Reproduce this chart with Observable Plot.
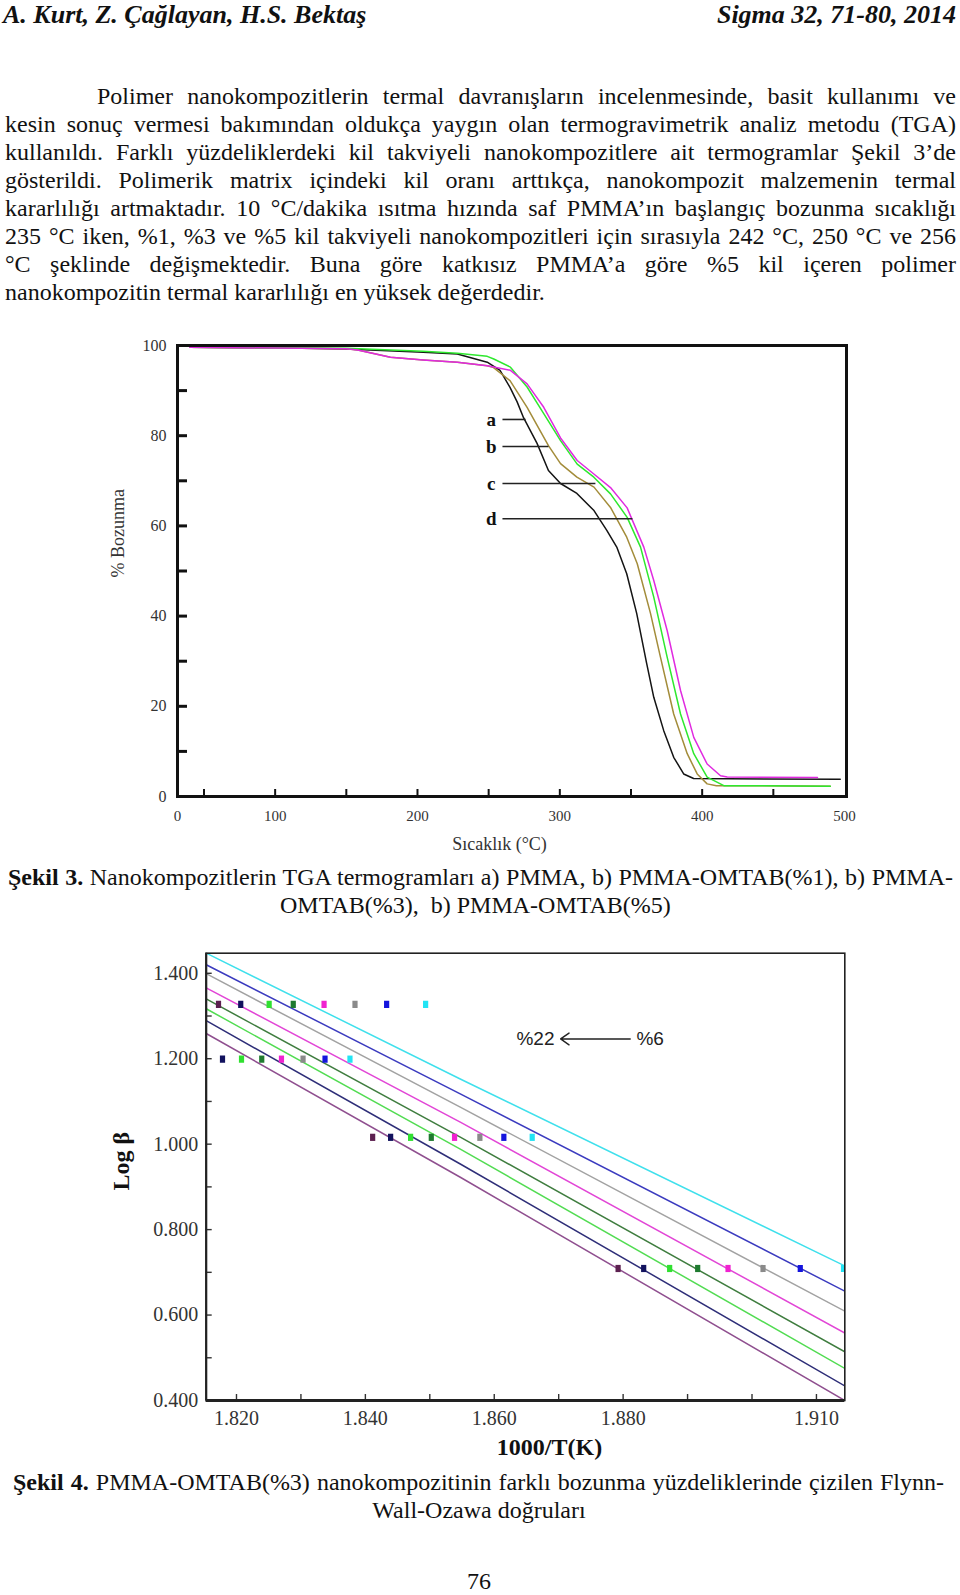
<!DOCTYPE html>
<html><head><meta charset="utf-8">
<script src="https://cdn.jsdelivr.net/npm/d3@7"></script>
<script src="https://cdn.jsdelivr.net/npm/@observablehq/plot@0.6"></script>
<style>
html,body{margin:0;padding:0;background:#fff;}
#page{position:relative;width:960px;height:1595px;overflow:hidden;font-family:"Liberation Serif","Times New Roman",serif;color:#111;}
.t{position:absolute;white-space:nowrap;font-size:24px;line-height:28px;}
.j{position:absolute;white-space:nowrap;font-size:24px;line-height:28px;text-align:justify;text-align-last:justify;}
.hdr{position:absolute;white-space:nowrap;font-size:26px;line-height:29px;font-weight:bold;font-style:italic;}
.chart{position:absolute;left:0;}
</style></head>
<body>
<div id="page">
  <div class="hdr" style="left:3px;top:0px;">A. Kurt, Z. Çağlayan, H.S. Bektaş</div>
  <div class="hdr" style="right:4px;top:0px;">Sigma 32, 71-80, 2014</div>
  <div id="body"></div>
  <div id="c1" class="chart" style="top:325px;"></div>
  <div class="j" style="left:8px;width:945px;top:863px;"><b>Şekil 3.</b> Nanokompozitlerin TGA termogramları a) PMMA, b) PMMA-OMTAB(%1), b) PMMA-</div>
  <div class="t" style="left:280px;top:891px;">OMTAB(%3),&nbsp; b) PMMA-OMTAB(%5)</div>
  <div id="c2" class="chart" style="top:935px;"></div>
  <div class="j" style="left:13px;width:931px;top:1468px;"><b>Şekil 4.</b> PMMA-OMTAB(%3) nanokompozitinin farklı bozunma yüzdeliklerinde çizilen Flynn-</div>
  <div class="t" style="left:0;width:958px;text-align:center;top:1496px;">Wall-Ozawa doğruları</div>
  <div class="t" style="left:0;width:958px;text-align:center;top:1567px;">76</div>
</div>
<script>
// ---------- Body text lines ----------
const bodyLines = [
  "Polimer nanokompozitlerin termal davranışların incelenmesinde, basit kullanımı ve",
  "kesin sonuç vermesi bakımından oldukça yaygın olan termogravimetrik analiz metodu (TGA)",
  "kullanıldı. Farklı yüzdeliklerdeki kil takviyeli nanokompozitlere ait termogramlar Şekil 3’de",
  "gösterildi. Polimerik matrix içindeki kil oranı arttıkça, nanokompozit malzemenin termal",
  "kararlılığı artmaktadır. 10 °C/dakika ısıtma hızında saf PMMA’ın başlangıç bozunma sıcaklığı",
  "235 °C iken, %1, %3 ve %5 kil takviyeli nanokompozitleri için sırasıyla 242 °C, 250 °C ve 256",
  "°C şeklinde değişmektedir. Buna göre katkısız PMMA’a göre %5 kil içeren polimer",
  "nanokompozitin termal kararlılığı en yüksek değerdedir."
];

// ---------- Figure 3 (TGA) data: [temperature °C, % Bozunma] ----------
const tgaSeries = ["a", "b", "c", "d"];
const tgaColors = ["#141414", "#a38c3a", "#2ee82e", "#e02ae0"];
const curveA = [[40,99.6],[100,99.5],[150,99.2],[204,98.5],[228,98.1],[249,96.3],[258,94.5],[265,90.7],[270,87.5],[274.5,84],[284,78.3],[292,72.3],[300.5,69.4],[312,67.2],[324,63.4],[333,59],[340,55.3],[347,49.4],[354,40.6],[361,29.5],[366,22],[373,14.6],[380,8.7],[387,5],[394,4],[497,3.8]];
const curveB = [[40,99.6],[150,99.3],[158,99.0],[181,97.4],[204,96.8],[228,96.3],[249,95.5],[253,95.2],[265,92.2],[277,86.3],[292,77.8],[300.5,73.8],[312,70.8],[324,68.6],[335.6,64.1],[347,57.5],[354.4,51.6],[363.7,40.6],[370.7,30.9],[380,18.3],[389.5,9.5],[396.5,5],[403.5,2.8],[410,2.4],[490,2.3]];
const curveC = [[40,99.6],[150,99.4],[204,98.7],[228,98.3],[249,97.6],[253.6,97],[265.3,95.2],[277,90.8],[288.7,84.9],[300.5,78.9],[312.2,73.7],[323.9,70.8],[335.6,67.1],[347.3,61.9],[356.7,55.3],[366,44.2],[375.4,30.9],[384.8,18.3],[394.1,9.5],[403.5,4.3],[415.2,2.4],[490,2.3]];
const curveD = [[40,99.6],[150,99.3],[158,99.0],[181,97.4],[204,96.8],[228,96.3],[249,95.5],[265.3,94.5],[277,91.5],[288.7,86.3],[300.5,79.5],[312.2,74.5],[323.9,71.5],[335.6,68.5],[347.3,64.0],[359,55.3],[366,47.9],[375.4,36.8],[384.8,23.5],[394.1,13.1],[403.5,7.2],[412.9,4.6],[417.6,4.3],[481,4.2]];
const tgaXDomain = [31.4, 501.4];
const tgaYDomain = [0, 100];
const tgaXTickValues = [31.4, 100, 200, 300, 400, 500];
const tgaXTickLabels = ["0", "100", "200", "300", "400", "500"];
const tgaXMinorTicks = [50, 100, 150, 200, 250, 300, 350, 400, 450];
const tgaYTickValues = [0, 20, 40, 60, 80, 100];
const tgaYMinorTicks = [0, 10, 20, 30, 40, 50, 60, 70, 80, 90, 100];
const tgaAnnLetters = ["a", "b", "c", "d"];
const tgaAnnY = [83.6, 77.6, 69.4, 61.6];
const tgaAnnTextX = 251.8;
const tgaAnnLineStart = 259.7;
const tgaAnnLineEnd = [275.9, 292, 325, 351];
const tgaXLabel = "Sıcaklık (°C)";
const tgaYLabel = "% Bozunma";

// ---------- Figure 4 (Flynn-Wall-Ozawa) data ----------
const fwoSeries = ["L1", "L2", "L3", "L4", "L5", "L6", "L7", "L8"]; // top line (%6) to bottom line (%22)
const fwoLineColors = ["#3fe0ec", "#3b3bbf", "#a2a2a2", "#e246d6", "#3f7d3f", "#52dc52", "#2e2e78", "#8f4f8f"];
const fwoMarkColors = ["#22e4f4", "#1414dd", "#8a8a8a", "#f022d0", "#1f7a2f", "#30e030", "#12125e", "#5c2050"];
const fwoLineX = [1.8153, 1.8548, 1.9144];
const fwoLineY = [
  [1.447, 1.152, 0.715],
  [1.420, 1.117, 0.656],
  [1.399, 1.086, 0.609],
  [1.366, 1.051, 0.558],
  [1.340, 1.016, 0.514],
  [1.317, 0.988, 0.475],
  [1.289, 0.953, 0.434],
  [1.259, 0.922, 0.400]
];
const fwoMarkRowY = [1.327, 1.199, 1.016, 0.709];
// marker x positions, ordered left to right = L8 ... L1 (null = not drawn)
const fwoMarkRowX = [
  [1.81721, 1.82066, 1.82507, 1.82881, 1.83359, 1.83839, 1.84330, 1.84935],
  [null,    1.81783, 1.82078, 1.82392, 1.82698, 1.83033, 1.83374, 1.83761],
  [1.84113, 1.84392, 1.84702, 1.85023, 1.85384, 1.85777, 1.86149, 1.86589],
  [1.87922, 1.88319, 1.88722, 1.89157, 1.89628, 1.90171, 1.90749, 1.91420]
];
const fwoXDomain = [1.8153, 1.9144];
const fwoYDomain = [0.4, 1.447];
const fwoXTickValues = [1.82, 1.84, 1.86, 1.88, 1.91];
const fwoXMinorTicks = [1.82, 1.83, 1.84, 1.85, 1.86, 1.87, 1.88, 1.89, 1.90, 1.91];
const fwoYTickValues = [0.4, 0.6, 0.8, 1.0, 1.2, 1.4];
const fwoYMinorTicks = [0.4, 0.5, 0.6, 0.7, 0.8, 0.9, 1.0, 1.1, 1.2, 1.3, 1.4];
const fwoArrow = {x1: 1.8811, x2: 1.8703, y: 1.2463};
const fwoArrowLabels = [{text: "%22", x: 1.8664, y: 1.2463}, {text: "%6", x: 1.8842, y: 1.2463}];
const fwoXLabel = "1000/T(K)";
const fwoYLabel = "Log β";

// ---------- Body text ----------
const body = document.getElementById("body");
bodyLines.forEach((line, i) => {
  const d = document.createElement("div");
  const last = i === bodyLines.length - 1;
  d.className = last ? "t" : "j";
  const left = i === 0 ? 97 : 5;
  d.style.left = left + "px";
  if (!last) d.style.width = (956 - left) + "px";
  d.style.top = (82 + 28 * i) + "px";
  d.textContent = line;
  body.appendChild(d);
});

// ---------- Figure 3 ----------
const tgaCurves = [curveA, curveB, curveC, curveD];
const tgaRows = tgaCurves.flatMap((c, k) => c.map(([T, W]) => ({s: tgaSeries[k], T, W})));
const tgaAnn = tgaAnnLetters.map((l, i) => ({l, y: tgaAnnY[i], x2: tgaAnnLineEnd[i]}));
const tgaLabelMap = new Map(tgaXTickValues.map((v, i) => [v, tgaXTickLabels[i]]));
const W1 = 960, H1 = 535, mT1 = 20, mB1 = 64, mL1 = 177, mR1 = 114;
const fw1 = W1 - mL1 - mR1, fh1 = H1 - mT1 - mB1;

const p1 = Plot.plot({
  width: W1, height: H1,
  marginTop: mT1, marginBottom: mB1, marginLeft: mL1, marginRight: mR1,
  x: {domain: tgaXDomain},
  y: {domain: tgaYDomain},
  color: {domain: tgaSeries, range: tgaColors},
  style: {fontFamily: "'Liberation Serif', serif", background: "transparent", overflow: "visible"},
  marks: [
    Plot.line(tgaRows, {x: "T", y: "W", z: "s", stroke: "s", strokeWidth: 1.5}),
    Plot.link(tgaAnn, {x1: tgaAnnLineStart, x2: "x2", y1: "y", y2: "y", stroke: "#222", strokeWidth: 1.6}),
    Plot.text(tgaAnn, {x: tgaAnnTextX, y: "y", text: "l", fontWeight: "bold", fontSize: 19, fill: "#111"}),
    Plot.tickY(tgaYMinorTicks, {y: d => d, stroke: "#111", strokeWidth: 3, insetRight: fw1 - 10}),
    Plot.tickX(tgaXMinorTicks, {x: d => d, stroke: "#111", strokeWidth: 2, insetTop: fh1 - 7}),
    Plot.frame({stroke: "#111", strokeWidth: 3}),
    Plot.axisY(tgaYTickValues, {tickSize: 0, tickPadding: 11, fontSize: 16, fill: "#333", label: null}),
    Plot.axisX(tgaXTickValues, {tickSize: 0, tickPadding: 14, fontSize: 15, fill: "#333", label: null, tickFormat: d => tgaLabelMap.get(d)}),
    Plot.text([tgaYLabel], {text: d => d, frameAnchor: "left", rotate: -90, dx: -59.5, dy: 6.5, fontSize: 18, fill: "#333"}),
    Plot.text([tgaXLabel], {text: d => d, frameAnchor: "bottom", dx: -12.5, dy: 53, fontSize: 18, fill: "#333"})
  ]
});
document.getElementById("c1").appendChild(p1);

// ---------- Figure 4 ----------
const fwoRows = fwoSeries.flatMap((s, k) => fwoLineX.map((x, j) => ({s, x, y: fwoLineY[k][j]})));
const fwoMarks = fwoMarkRowX.flatMap((row, r) => row.map((x, j) => ({s: fwoSeries[fwoSeries.length - 1 - j], x, y: fwoMarkRowY[r]})).filter(d => d.x != null));
const rectSymbol = {draw(ctx) { ctx.rect(-2.6, -3.6, 5.2, 7.2); }};
const W2 = 960, H2 = 530, mT2 = 17.7, mB2 = 65, mL2 = 205.7, mR2 = 115.7;
const fw2 = W2 - mL2 - mR2, fh2 = H2 - mT2 - mB2;

const p2 = Plot.plot({
  width: W2, height: H2,
  marginTop: mT2, marginBottom: mB2, marginLeft: mL2, marginRight: mR2,
  x: {domain: fwoXDomain},
  y: {domain: fwoYDomain},
  color: {domain: fwoSeries, range: fwoLineColors},
  style: {fontFamily: "'Liberation Serif', serif", background: "transparent", overflow: "visible"},
  marks: [
    Plot.line(fwoRows, {x: "x", y: "y", z: "s", stroke: "s", strokeWidth: 1.5, clip: true}),
    Plot.dot(fwoMarks, {x: "x", y: "y", symbol: rectSymbol, r: 4, fill: d => fwoMarkColors[fwoSeries.indexOf(d.s)], stroke: "none", clip: true}),
    Plot.arrow([fwoArrow], {x1: "x1", x2: "x2", y1: "y", y2: "y", stroke: "#222", strokeWidth: 1.4, headLength: 11, headAngle: 70}),
    Plot.text(fwoArrowLabels, {x: "x", y: "y", text: "text", fontFamily: "'Liberation Sans', sans-serif", fontSize: 19, fill: "#222"}),
    Plot.tickY(fwoYMinorTicks, {y: d => d, stroke: "#333", strokeWidth: 1.4, insetRight: fw2 - 6}),
    Plot.tickX(fwoXMinorTicks, {x: d => d, stroke: "#333", strokeWidth: 1.4, insetTop: fh2 - 6}),
    Plot.frame({stroke: "#222", strokeWidth: 1.6}),
    Plot.ruleX([fwoXDomain[0]], {stroke: "#222", strokeWidth: 2.2}),
    Plot.ruleY([fwoYDomain[0]], {stroke: "#222", strokeWidth: 2.8}),
    Plot.axisY(fwoYTickValues, {tickSize: 0, tickPadding: 8, fontSize: 20, fill: "#333", label: null, tickFormat: d3.format(".3f")}),
    Plot.axisX(fwoXTickValues, {tickSize: 0, tickPadding: 10, fontSize: 20, fill: "#333", label: null, tickFormat: d3.format(".3f")}),
    Plot.text([fwoYLabel], {text: d => d, frameAnchor: "left", rotate: -90, dx: -85, dy: 13.6, fontSize: 24, fontWeight: "bold", fill: "#111"}),
    Plot.text([fwoXLabel], {text: d => d, frameAnchor: "bottom", dx: 24, dy: 54.5, fontSize: 24, fontWeight: "bold", fill: "#111"})
  ]
});
document.getElementById("c2").appendChild(p2);
</script>
</body></html>
